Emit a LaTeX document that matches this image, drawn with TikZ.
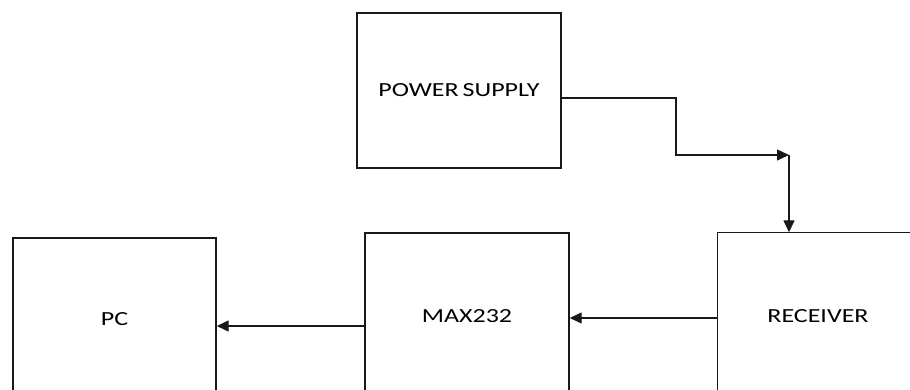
\documentclass[tikz,border=0pt]{standalone}
\usepackage{fontspec}
\setmainfont{Carlito}
\usetikzlibrary{arrows.meta,calc}
\tikzset{
  blk/.style={draw=black!90, line width=1.4pt, inner sep=0pt, text=black,
    font=\fontsize{20}{23}\selectfont},
  arr/.style={draw=black!90, line width=1.4pt, -{Triangle[length=12pt,width=11pt]}},
}
\newcommand{\wtxt}[1]{\scalebox{1.3}[1]{#1}}
\begin{document}
\begin{tikzpicture}[x=1pt,y=-1pt]
\useasboundingbox (0,0) rectangle (910,390);
\clip (0,0) rectangle (910,390);
\fill[white] (0,0) rectangle (910,390);
\node[blk, minimum width=204pt, minimum height=155pt] (ps) at (459,90.5) {\wtxt{POWER\hspace{3pt}SUPPLY}};
\node[blk, minimum width=203pt, minimum height=162pt] (pc) at (114.5,319) {\wtxt{PC}};
\node[blk, minimum width=204pt, minimum height=167pt] (max) at (467,316.5) {\wtxt{MAX232}};
\node[blk, draw=none, minimum width=200pt, minimum height=167pt] (rx) at (818,316.5) {\wtxt{RECEIVER}};
\draw[black!90, line width=1.4pt] (rx.south west) -- (rx.north west) -- ++(300,0);
\coordinate (k) at (789,155);
\draw[arr] (ps.east |- 0,98) -- (676,98) -- (676,155) -- (k);
\draw[arr] (k) -- (rx.north -| k);
\draw[arr] (rx.west |- 0,318) -- (max.east |- 0,318);
\draw[arr] (max.west |- 0,326) -- (pc.east |- 0,326);
\end{tikzpicture}
\end{document}
